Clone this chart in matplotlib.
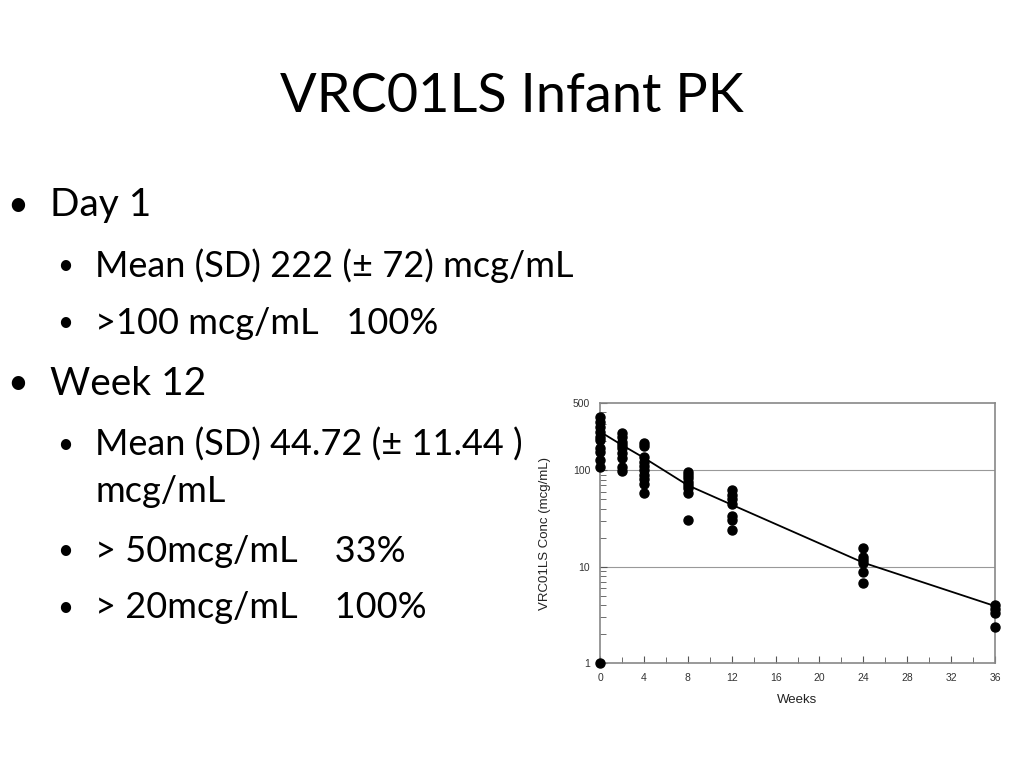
import matplotlib
matplotlib.use('Agg')
import matplotlib.pyplot as plt
import matplotlib.ticker as mticker
import numpy as np

# ----- Slide text -----
title = "VRC01LS Infant PK"
bullets = [
    (0, "Day 1"),
    (1, "Mean (SD) 222 (\u00b1 72) mcg/mL"),
    (1, ">100 mcg/mL   100%"),
    (0, "Week 12"),
    (1, "Mean (SD) 44.72 (\u00b1 11.44 )"),
    (2, "mcg/mL"),
    (1, "> 50mcg/mL    33%"),
    (1, "> 20mcg/mL    100%"),
]
bullet_y = [205, 266, 323, 384, 445, 492, 551, 608]

# ----- Observed concentrations (mcg/mL) by week -----
wk0 = [361, 321, 284, 252, 224, 207, 169, 156, 128, 109, 1.0]
wk2 = [246, 224, 199, 183, 169, 150, 133, 109, 98]
wk4 = [194, 179, 139, 123, 111, 101, 89, 81, 73, 58]
wk8 = [97, 89, 83, 76, 70, 65, 58, 30.5]
wk12 = [63, 55, 51, 45, 33.5, 30.5, 24]
wk24 = [15.8, 12.7, 11.7, 10.8, 8.8, 6.7]
wk36 = [3.98, 3.67, 3.31, 2.37]
obs_weeks = [0, 2, 4, 8, 12, 24, 36]
obs_conc = [wk0, wk2, wk4, wk8, wk12, wk24, wk36]

# ----- Model mean curve -----
fit_weeks = [0, 2, 4, 8, 12, 24, 36]
fit_conc = [252, 183, 135, 70, 44, 11, 3.9]

fig = plt.figure(figsize=(10.24, 7.68), dpi=100)
fig.patch.set_facecolor('white')

# ----- Title and bullets -----
fig.text(0.5, 1 - 97/768, title, fontsize=39, family='Lato', ha='center', va='center')
for (lvl, txt), yy in zip(bullets, bullet_y):
    yf = 1 - yy/768
    if lvl == 0:
        fig.text(18/1024, yf, "\u2022", fontsize=26, family='Lato', ha='center', va='center')
        fig.text(50/1024, yf, txt, fontsize=28, family='Lato', va='center')
    else:
        if lvl == 1:
            fig.text(65/1024, yf, "\u2022", fontsize=20, family='Lato', ha='center', va='center')
        fig.text(95/1024, yf, txt, fontsize=26, family='Lato', va='center')

# ----- PK chart -----
ax = fig.add_axes([600/1024, 1 - 663/768, 395/1024, 260/768])
for w, c in zip(obs_weeks, obs_conc):
    ax.plot([w]*len(c), c, 'o', color='black', markersize=6.5, clip_on=False, zorder=3)
ax.plot(fit_weeks, fit_conc, color='black', linewidth=1.3, zorder=2)

ax.set_yscale('log')
ax.set_ylim(1, 500)
ax.set_xlim(0, 36)
ax.set_yticks([1, 10, 100, 500])
ax.yaxis.set_major_formatter(mticker.FixedFormatter(['1', '10', '100', '500']))
ax.yaxis.set_minor_locator(mticker.LogLocator(subs=np.arange(2, 10)))
ax.yaxis.set_minor_formatter(mticker.NullFormatter())
ax.set_xticks(np.arange(0, 37, 4))
ax.set_xticks(np.arange(2, 37, 4), minor=True)

for y in [10, 100]:
    ax.axhline(y, color='#999999', linewidth=0.8, zorder=1)

for s in ax.spines.values():
    s.set_color('#888888')
    s.set_linewidth(1.2)
ax.tick_params(which='both', direction='in', color='#555555', labelsize=7.5, pad=7)
ax.tick_params(which='major', length=5)
ax.tick_params(which='minor', length=4)
for lab in ax.get_xticklabels() + ax.get_yticklabels():
    lab.set_family('Liberation Sans')
    lab.set_color('#333333')

ax.set_xlabel('Weeks', fontsize=9.5, family='Liberation Sans', color='#222222', labelpad=8)
ax.set_ylabel('VRC01LS Conc (mcg/mL)', fontsize=9.5, family='Liberation Sans', color='#222222', labelpad=16)

plt.savefig('out.png', dpi=100)
